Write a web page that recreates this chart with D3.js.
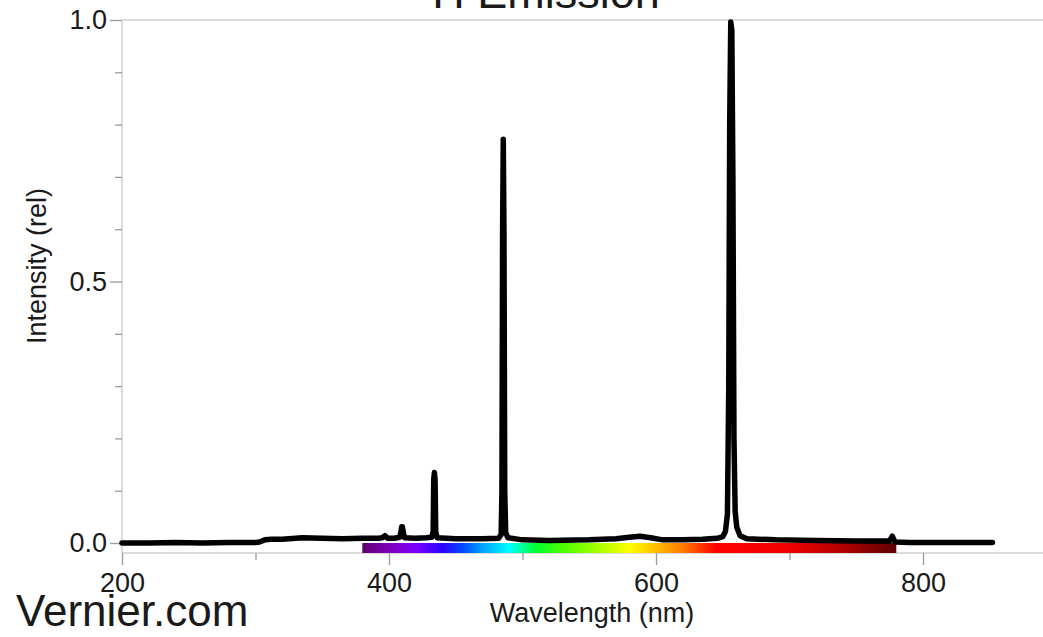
<!DOCTYPE html>
<html>
<head>
<meta charset="utf-8">
<script src="https://cdn.jsdelivr.net/npm/d3@7"></script>
<style>
  body { margin: 0; background: #fff; }
  svg { display: block; }
  text { font-family: "Liberation Sans", Arial, sans-serif; fill: #1a1a1a; }
</style>
</head>
<body>
<svg id="chart"></svg>
<script>
// H emission spectrum
const wavelength = [
  200, 220, 240, 260, 280, 300, 303, 307, 312, 320, 335, 350, 365, 380, 392,
  395, 397, 399, 404, 408, 409, 409.5, 410, 410.6, 411.5, 420, 428, 432,
  433.1, 433.5, 434.0, 434.5, 435.0, 436, 450, 470, 482, 484.0, 484.6, 485.1,
  485.6, 486.1, 486.7, 487.4, 489, 500, 520, 550, 570, 580, 588, 596, 605,
  620, 635, 646, 650, 652, 653.5, 654.5, 655.2, 656.0, 656.8, 657.6, 658.4,
  659.3, 660.5, 663, 668, 690, 720, 750, 775, 777, 779, 790, 810, 830, 852
];
const intensity = [
  0.000, 0.000, 0.001, 0.000, 0.001, 0.001, 0.002, 0.006, 0.007, 0.007, 0.010, 0.009, 0.008, 0.009, 0.009,
  0.010, 0.014, 0.009, 0.009, 0.011, 0.022, 0.031, 0.031, 0.022, 0.010, 0.009, 0.010, 0.011,
  0.022, 0.122, 0.135, 0.122, 0.022, 0.010, 0.008, 0.008, 0.009, 0.016, 0.100, 0.600,
  0.772, 0.600, 0.100, 0.020, 0.010, 0.006, 0.005, 0.006, 0.008, 0.011, 0.013, 0.010, 0.006,
  0.006, 0.007, 0.009, 0.012, 0.022, 0.055, 0.300, 0.800, 0.996, 0.980, 0.700, 0.200,
  0.060, 0.030, 0.014, 0.008, 0.006, 0.005, 0.004, 0.004, 0.013, 0.002, 0.001, 0.001, 0.001, 0.001
];
const xMajor = [200, 400, 600, 800];
const xMinor = [300, 500, 700];
const yMajor = [0, 0.5, 1.0];
const yMinor = [0.1, 0.2, 0.3, 0.4, 0.6, 0.7, 0.8, 0.9];

// visible band under the trace
const bandStops = [380, 400, 420, 440, 455, 470, 490, 510, 530, 560, 580, 600, 620, 645, 700, 740, 780];
const bandColors = ['#5e0070', '#8000b8', '#7a00ff', '#2c00ff', '#0048ff', '#00a2ff', '#00ffff', '#00ff30',
  '#4cff00', '#b3ff00', '#ffff00', '#ffbe00', '#ff7a00', '#ff0000', '#f00000', '#b00000', '#5e0000'];

const width = 1043, height = 637;
const svg = d3.select('#chart').attr('width', width).attr('height', height);

const x = d3.scaleLinear().domain([200, 900]).range([122, 1056.5]);
const y = d3.scaleLinear().domain([0, 1]).range([543, 20]);
const yBottom = 553;

const gridColor = '#cfcfcf';
const tickColor = '#9a9a9a';

// frame lines
svg.append('line').attr('x1', x(200)).attr('x2', width).attr('y1', y(1)).attr('y2', y(1))
  .attr('stroke', gridColor).attr('stroke-width', 1.5);
svg.append('line').attr('x1', x(200)).attr('x2', width).attr('y1', yBottom).attr('y2', yBottom)
  .attr('stroke', gridColor).attr('stroke-width', 1.5);
svg.append('line').attr('x1', x(200)).attr('x2', x(200)).attr('y1', y(1)).attr('y2', yBottom)
  .attr('stroke', gridColor).attr('stroke-width', 1.5);

// y ticks
const yAxisMinor = d3.axisLeft(y).tickValues(yMinor).tickSize(7).tickFormat('').tickSizeOuter(0);
const yAxisMajor = d3.axisLeft(y).tickValues(yMajor).tickSize(12).tickPadding(3)
  .tickFormat(d3.format('.1f')).tickSizeOuter(0);
[yAxisMinor, yAxisMajor].forEach(ax => {
  const g = svg.append('g').attr('transform', `translate(${x(200)},0)`).call(ax);
  g.select('.domain').remove();
  g.selectAll('.tick line').attr('stroke', tickColor).attr('stroke-width', 1.3);
  g.selectAll('.tick text').attr('font-size', 27).attr('fill', '#1a1a1a')
    .attr('font-family', '"Liberation Sans", Arial, sans-serif');
});

// x ticks
const xAxisMinor = d3.axisBottom(x).tickValues(xMinor).tickSize(7).tickFormat('').tickSizeOuter(0);
const xAxisMajor = d3.axisBottom(x).tickValues(xMajor).tickSize(12).tickSizeOuter(0);
[xAxisMinor, xAxisMajor].forEach(ax => {
  const g = svg.append('g').attr('transform', `translate(0,${yBottom})`).call(ax);
  g.select('.domain').remove();
  g.selectAll('.tick line').attr('stroke', tickColor).attr('stroke-width', 1.3);
  g.selectAll('.tick text').attr('font-size', 27).attr('fill', '#1a1a1a')
    .attr('font-family', '"Liberation Sans", Arial, sans-serif')
    .attr('y', 39).attr('dy', 0);
});

// spectrum band
const grad = svg.append('defs').append('linearGradient').attr('id', 'band')
  .attr('x1', '0%').attr('x2', '100%').attr('y1', '0%').attr('y2', '0%');
const bandScale = d3.scaleLinear().domain([380, 780]).range([0, 100]);
bandStops.forEach((s, i) => {
  grad.append('stop').attr('offset', bandScale(s) + '%').attr('stop-color', bandColors[i]);
});
svg.append('rect')
  .attr('x', x(380)).attr('width', x(780) - x(380))
  .attr('y', y(0)).attr('height', yBottom - y(0))
  .attr('fill', 'url(#band)');

// trace
const pts = wavelength.map((w, i) => [w, intensity[i]]);
const line = d3.line().x(d => x(d[0])).y(d => y(d[1]));
svg.append('path').datum(pts)
  .attr('d', line)
  .attr('fill', 'none')
  .attr('stroke', '#000')
  .attr('stroke-width', 5.5)
  .attr('stroke-linejoin', 'round')
  .attr('stroke-linecap', 'round');

// titles
svg.append('text').attr('x', 546).attr('y', 8).attr('text-anchor', 'middle')
  .attr('font-size', 45).text('H Emission');
svg.append('text').attr('x', 592).attr('y', 622).attr('text-anchor', 'middle')
  .attr('font-size', 27).text('Wavelength (nm)');
svg.append('text').attr('transform', 'translate(46,266) rotate(-90)').attr('text-anchor', 'middle')
  .attr('font-size', 27).text('Intensity (rel)');
svg.append('text').attr('x', 16).attr('y', 626)
  .attr('font-family', 'Lato, "Open Sans", sans-serif')
  .attr('font-size', 44).attr('fill', '#000').text('Vernier.com');
</script>
</body>
</html>
